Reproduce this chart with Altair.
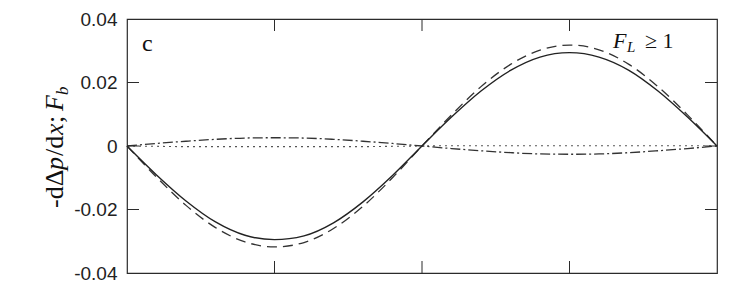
import altair as alt
import pandas as pd

# ---- data ----
x_vals = [0.0, 0.05, 0.10, 0.15, 0.20, 0.25, 0.30, 0.35, 0.40, 0.45, 0.50,
          0.55, 0.60, 0.65, 0.70, 0.75, 0.80, 0.85, 0.90, 0.95, 1.0]
solid = [0.0, -0.0091, -0.0173, -0.0239, -0.0281, -0.0295, -0.0283, -0.0242, -0.0176, -0.0093, 0.0,
         0.0091, 0.0173, 0.0238, 0.0280, 0.0294, 0.0280, 0.0239, 0.0173, 0.0091, 0.0]
dashed = [0.0, -0.0098, -0.0187, -0.0257, -0.0302, -0.0318, -0.0304, -0.0260, -0.0190, -0.0100, 0.0,
          0.0098, 0.0187, 0.0257, 0.0302, 0.0318, 0.0303, 0.0258, 0.0187, 0.0098, 0.0]
dashdot = [0.0, 0.0008, 0.0015, 0.0021, 0.0025, 0.0026, 0.0025, 0.0021, 0.0015, 0.0008, 0.0,
           -0.0008, -0.0015, -0.0021, -0.0025, -0.0026, -0.0025, -0.0021, -0.0015, -0.0008, 0.0]
dotted = [0.0, -0.0001, -0.0002, -0.0002, -0.0002, -0.0002, -0.0002, -0.0002, -0.0002, -0.0001, 0.0,
          0.0001, 0.0001, 0.0001, 0.0001, 0.0001, 0.0001, 0.0001, 0.0001, 0.0001, 0.0]

y_ticks = [-0.04, -0.02, 0.0, 0.02, 0.04]
x_minor = [0.25, 0.5, 0.75]
y_minor = [-0.02, 0.0, 0.02]

W, H = 590, 254
INK = "#2b2b2b"

xs = alt.Scale(domain=[0, 1], nice=False, zero=False)
ys = alt.Scale(domain=[-0.04, 0.04], nice=False, zero=False)

X = alt.X("x:Q", scale=xs, axis=alt.Axis(labels=False, ticks=False, domain=False, grid=False, title=""))
Y = alt.Y("y:Q", scale=ys, axis=alt.Axis(values=y_ticks, ticks=False, domain=False, grid=False, title="",
                                          labelPadding=10, labelFont="Liberation Sans", labelFontSize=19,
                                          labelColor="#222",
                                          labelExpr="datum.value == 0 ? '0' : (datum.value < 0 ? '-' : '') + format(abs(datum.value), '.2f')"))


def line(vals, dash, color, w=1.3):
    df = pd.DataFrame({"x": x_vals, "y": vals})
    kw = dict(color=color, strokeWidth=w, interpolate="monotone")
    if dash:
        kw["strokeDash"] = dash
    return alt.Chart(df).mark_line(**kw).encode(x=X, y=Y)


layers = [
    line(dotted, [2, 4], "#555", 1.1),
    line(dashdot, [10, 3, 2, 3], "#333", 1.3),
    line(dashed, [10, 6], "#333", 1.3),
    line(solid, None, "#222", 1.4),
]

# inward tick marks
tx = pd.DataFrame({"x": x_minor})
ty = pd.DataFrame({"y": y_minor})
layers.append(alt.Chart(tx).mark_rule(color=INK, strokeWidth=1).encode(
    x=alt.X("x:Q", scale=xs), y=alt.value(H), y2=alt.value(H - 12)))
layers.append(alt.Chart(tx).mark_rule(color=INK, strokeWidth=1).encode(
    x=alt.X("x:Q", scale=xs), y=alt.value(0), y2=alt.value(12)))
layers.append(alt.Chart(ty).mark_rule(color=INK, strokeWidth=1).encode(
    y=alt.Y("y:Q", scale=ys), x=alt.value(0), x2=alt.value(12)))
layers.append(alt.Chart(ty).mark_rule(color=INK, strokeWidth=1).encode(
    y=alt.Y("y:Q", scale=ys), x=alt.value(W - 12), x2=alt.value(W)))


def txt(s, x, y, size, italic=False, angle=0, font="Liberation Serif"):
    kw = dict(text=s, font=font, fontSize=size, color="#111", align="left", baseline="alphabetic")
    if italic:
        kw["fontStyle"] = "italic"
    if angle:
        kw["angle"] = angle
    return alt.Chart(pd.DataFrame({"a": [0]})).mark_text(**kw).encode(x=alt.value(x), y=alt.value(y))


# panel letter and condition label
layers.append(txt("c", 15, 32, 24))
layers.append(txt("F", 486, 29, 22, italic=True))
layers.append(txt("L", 500, 33, 15, italic=True))
layers.append(txt("≥ 1", 518, 29, 22))

# rotated y title: -dΔp/dx; F_b
bx = -64
oy = -5
layers.append(txt("-dΔ", bx, 194 + oy, 26, angle=270))
layers.append(txt("p", bx, 156 + oy, 26, italic=True, angle=270))
layers.append(txt("/d", bx, 142 + oy, 26, angle=270))
layers.append(txt("x", bx, 121 + oy, 26, italic=True, angle=270))
layers.append(txt(";", bx, 109 + oy, 26, angle=270))
layers.append(txt("F", bx, 97 + oy, 26, italic=True, angle=270))
layers.append(txt("b", bx + 5, 81 + oy, 17, italic=True, angle=270))

chart = alt.layer(*layers).properties(
    width=W, height=H,
    autosize=alt.AutoSizeParams(type="none"),
    padding={"left": 119, "top": 11, "right": 16, "bottom": 19},
    background="white",
).configure_view(stroke=INK, strokeWidth=1.2)

chart.save("out.html", embed_options={"renderer": "svg", "actions": False})
